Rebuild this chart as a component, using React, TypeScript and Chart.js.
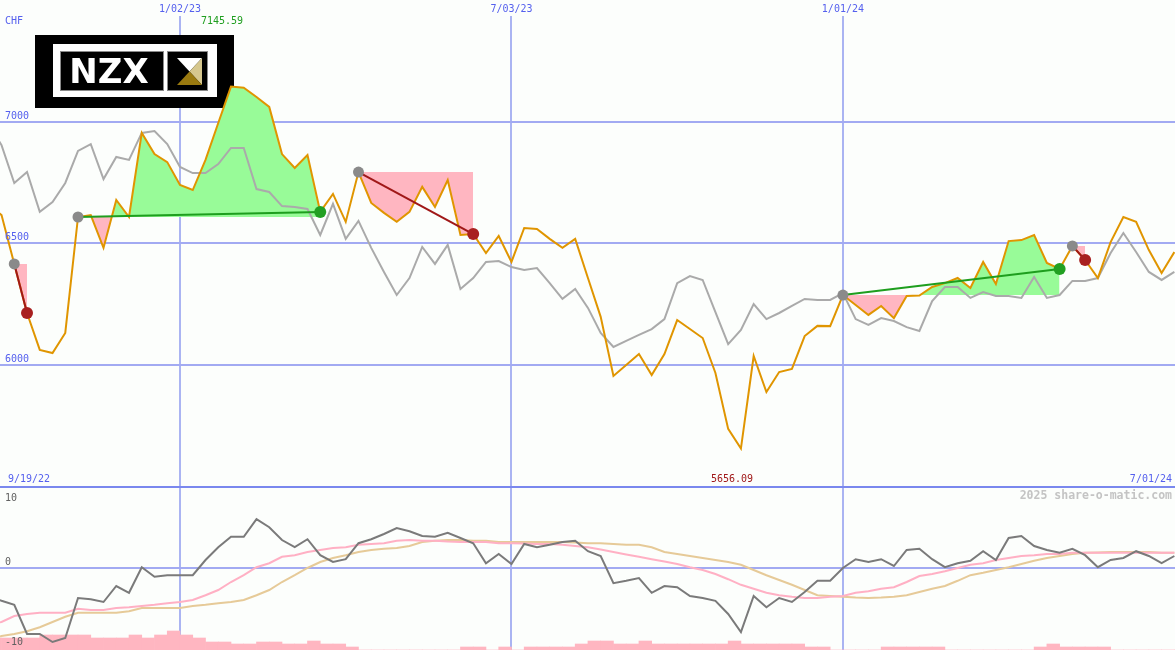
import React, { useEffect, useRef } from "react";
import { Chart, registerables } from "chart.js";

Chart.register(...registerables);

// ---------------- data ----------------
const startDate = { year: 2022, month: 9, day: 19 }; // week 0
const weekMin = 0.88;
const weekMax = 93.05;
const priceTicks = [6000, 6500, 7000];
const dateTickWeeks = [15, 41, 67];
const oscTicks = [10, 0, -10];
const firstLabelWeek = 0;
const lastLabelWeek = 93;

const priceCHF = [
  6658, 6617, 6416, 6214, 6062, 6049, 6132, 6609, 6617, 6482,
  6679, 6609, 6955, 6868, 6835, 6741, 6720, 6844, 6996, 7145.59,
  7141, 7103, 7062, 6868, 6811, 6864, 6630, 6704, 6589, 6794,
  6667, 6626, 6589, 6630, 6733, 6650, 6761, 6535, 6539, 6461,
  6531, 6424, 6564, 6560, 6519, 6482, 6519, 6358, 6198, 5955,
  6000, 6045, 5959, 6045, 6185, 6148, 6111, 5967, 5737, 5656.09,
  6037, 5889, 5971, 5984, 6119, 6161, 6160, 6288, 6247, 6206,
  6243, 6193, 6284, 6286, 6321, 6337, 6358, 6317, 6424, 6333,
  6510, 6514, 6535, 6420, 6395, 6490, 6432, 6358, 6506, 6609,
  6589, 6473, 6379, 6465,
];

const relativeIndex = [
  6988, 6905, 6749, 6794, 6630, 6671, 6749, 6881, 6909, 6765,
  6856, 6844, 6955, 6963, 6909, 6815, 6790, 6790, 6827, 6893,
  6893, 6724, 6712, 6654, 6650, 6642, 6535, 6663, 6519, 6593,
  6482, 6383, 6288, 6358, 6486, 6416, 6494, 6313, 6358, 6424,
  6428, 6403, 6391, 6399, 6337, 6272, 6313, 6235, 6132, 6074,
  6099, 6124, 6148, 6189, 6337, 6366, 6350, 6218, 6086, 6144,
  6251, 6189, 6214, 6243, 6272, 6268, 6268, 6296, 6189, 6165,
  6193, 6181, 6156, 6140, 6263, 6321, 6321, 6276, 6300, 6284,
  6284, 6276, 6362, 6276, 6288, 6346, 6346, 6358, 6461, 6543,
  6465, 6383, 6350, 6383,
];

const momentum = [
  -3.5, -4.1, -4.6, -8.25, -8.25, -9.25, -8.75, -3.75, -3.9, -4.25,
  -2.25, -3.1, 0.1, -1.1, -0.9, -0.9, -0.9, 1.0, 2.6, 3.9,
  3.9, 6.1, 5.1, 3.5, 2.6, 3.6, 1.6, 0.75, 1.1, 3.1,
  3.6, 4.25, 5.0, 4.6, 4.0, 3.9, 4.4, 3.75, 3.1, 0.6,
  1.75, 0.5, 3.0, 2.6, 2.9, 3.25, 3.4, 2.1, 1.5, -1.9,
  -1.6, -1.25, -3.1, -2.25, -2.4, -3.5, -3.75, -4.1, -5.75, -8.0,
  -3.5, -4.9, -3.75, -4.25, -3.0, -1.6, -1.6, 0, 1.1, 0.75,
  1.1, 0.25, 2.25, 2.4, 1.1, 0.1, 0.6, 0.9, 2.1, 1.0,
  3.75, 4.0, 2.75, 2.25, 1.9, 2.4, 1.6, 0.1, 1.0, 1.25,
  2.1, 1.5, 0.6, 1.5,
];

const momentumAvgFast = [
  -7.0, -6.75, -6.0, -5.75, -5.6, -5.6, -5.6, -5.1, -5.25, -5.25,
  -5.0, -4.9, -4.75, -4.6, -4.4, -4.25, -4.0, -3.4, -2.75, -1.75,
  -0.9, 0.1, 0.6, 1.4, 1.6, 2.0, 2.25, 2.5, 2.6, 2.9,
  3.0, 3.1, 3.4, 3.5, 3.4, 3.4, 3.3, 3.25, 3.25, 3.25,
  3.1, 3.1, 3.05, 3.0, 3.0, 2.9, 2.75, 2.6, 2.3, 2.0,
  1.7, 1.4, 1.1, 0.8, 0.5, 0.1, -0.25, -0.75, -1.4, -2.1,
  -2.6, -3.1, -3.4, -3.6, -3.75, -3.75, -3.6, -3.5, -3.1, -2.9,
  -2.6, -2.4, -1.75, -1.0, -0.75, -0.4, 0, 0.4, 0.6, 1.0,
  1.25, 1.5, 1.6, 1.75, 1.75, 1.9, 1.9, 1.9, 1.9, 1.9,
  1.9, 1.9, 1.9, 1.9,
];

const momentumAvgSlow = [
  -9.0, -8.5, -8.25, -7.9, -7.4, -6.75, -6.1, -5.6, -5.6, -5.6,
  -5.6, -5.4, -5.0, -5.0, -5.0, -5.0, -4.75, -4.6, -4.4, -4.25,
  -4.0, -3.4, -2.75, -1.75, -0.9, 0, 0.75, 1.25, 1.6, 2.0,
  2.25, 2.4, 2.5, 2.75, 3.25, 3.4, 3.5, 3.5, 3.4, 3.4,
  3.25, 3.25, 3.25, 3.25, 3.25, 3.25, 3.2, 3.1, 3.1, 3.0,
  2.9, 2.9, 2.6, 2.0, 1.75, 1.5, 1.25, 1.0, 0.75, 0.4,
  -0.25, -0.9, -1.5, -2.1, -2.75, -3.4, -3.5, -3.6, -3.7, -3.75,
  -3.7, -3.6, -3.4, -3.0, -2.6, -2.25, -1.6, -0.9, -0.6, -0.25,
  0.1, 0.5, 0.9, 1.25, 1.5, 1.75, 1.9, 1.95, 2.0, 2.0,
  2.0, 2.0, 1.9, 1.9,
];

// weekly volume (bar k covers week k .. k+1)
const volume = [
  12, 12, 12, 12, 15, 15, 15, 15, 12, 12,
  12, 15, 12, 15, 19, 15, 12, 8, 8, 6,
  6, 8, 8, 6, 6, 9, 6, 6, 3, 0,
  0, 0, 0, 0, 0, 0, 0, 3, 3, 0,
  3, 0, 3, 3, 3, 3, 6, 9, 9, 6,
  6, 9, 6, 6, 6, 6, 6, 6, 9, 6,
  6, 6, 6, 6, 3, 3, 0, 0, 0, 0,
  3, 3, 3, 3, 3, 0, 0, 0, 0, 0,
  0, 0, 3, 6, 3, 3, 3, 3, 0, 0,
  0, 0, 0, 0,
];

const tradeEntryWeeks = [2, 7, 29, 67, 85];
const tradeExitWeeks = [3, 26, 38, 84, 86];

// ---------------- style ----------------
const W = 1175;
const TOP_H = 489;
const BOT_H = 161;
const BG = "#fcfefc";
const GRID_H = "#a2aaf2";
const GRID_V = "#aab4f2";
const BORDER = "#7a88ee";
const BLUE_TXT = "#5560ee";
const GRAY_TXT = "#606060";
const FONT = '10px "DejaVu Sans Mono", monospace';
const PX_PER_CHF = 0.243;
const PRICE_MAX = 7000 + 122 / PX_PER_CHF;
const PRICE_MIN = PRICE_MAX - TOP_H / PX_PER_CHF;
const OSC_PX = 8;
const OSC_MAX = 79 / OSC_PX;
const OSC_MIN = OSC_MAX - BOT_H / OSC_PX;

const ORANGE = "#e09500";
const GRAYLINE = "#aaaaaa";
const GREEN_FILL = "#98fb98";
const PINK_FILL = "#ffb6c1";
const GREEN_LINE = "#1e9e1e";
const RED_LINE = "#a01818";

function weekLabel(k: number): string {
  const d = new Date(Date.UTC(startDate.year, startDate.month - 1, startDate.day + 7 * k));
  const m = d.getUTCMonth() + 1;
  const dd = String(d.getUTCDate()).padStart(2, "0");
  const yy = String(d.getUTCFullYear() % 100).padStart(2, "0");
  return `${m}/${dd}/${yy}`;
}

const pts = (arr: number[], from = 0, to = arr.length - 1) => {
  const out: { x: number; y: number }[] = [];
  for (let i = from; i <= to; i++) out.push({ x: i, y: arr[i] });
  return out;
};

function drawLogo(ctx: CanvasRenderingContext2D) {
  ctx.save();
  ctx.fillStyle = "#000";
  ctx.fillRect(35, 35, 199, 73);
  ctx.fillStyle = "#fff";
  ctx.fillRect(53, 44, 164, 53);
  ctx.fillStyle = "#000";
  ctx.fillRect(61, 52, 102, 38);
  ctx.fillRect(168, 52, 39, 38);
  ctx.strokeStyle = "#8a8a8a";
  ctx.lineWidth = 1;
  ctx.strokeRect(60.5, 51.5, 103, 39);
  ctx.strokeRect(167.5, 51.5, 40, 39);
  ctx.fillStyle = "#fff";
  ctx.font = 'bold 34px "DejaVu Sans", sans-serif';
  ctx.textAlign = "center";
  ctx.textBaseline = "alphabetic";
  ctx.fillText("NZX", 109, 83);
  const l = 177, r = 202, t = 58, b = 85, cx = 189.5, cy = 71.5;
  const tri = (p: number[][], c: string) => {
    ctx.fillStyle = c;
    ctx.beginPath();
    ctx.moveTo(p[0][0], p[0][1]);
    ctx.lineTo(p[1][0], p[1][1]);
    ctx.lineTo(p[2][0], p[2][1]);
    ctx.closePath();
    ctx.fill();
  };
  tri([[l, t], [r, t], [cx, cy]], "#ffffff");
  tri([[r, t], [r, b], [cx, cy]], "#d6c78e");
  tri([[l, b], [r, b], [cx, cy]], "#9a7a10");
  ctx.restore();
}

const topDecor = {
  id: "topDecor",
  beforeDraw(chart: any) {
    const { ctx, width, height } = chart;
    ctx.save();
    ctx.fillStyle = BG;
    ctx.fillRect(0, 0, width, height);
    ctx.restore();
  },
  beforeDatasetsDraw(chart: any) {
    const { ctx, scales, chartArea } = chart;
    const x = scales.x, y = scales.y;
    ctx.save();
    ctx.fillStyle = GRID_V;
    dateTickWeeks.forEach((k) => {
      const px = Math.round(x.getPixelForValue(k));
      ctx.fillRect(px - 1, 16, 2, chartArea.bottom - 16);
    });
    ctx.fillStyle = GRID_H;
    priceTicks.forEach((v) => {
      const py = Math.round(y.getPixelForValue(v));
      ctx.fillRect(0, py - 1, chart.width, 2);
    });
    ctx.restore();
    drawLogo(ctx);
  },
  afterDraw(chart: any) {
    const { ctx, scales, chartArea } = chart;
    const x = scales.x, y = scales.y;
    ctx.save();
    ctx.font = FONT;
    ctx.textBaseline = "middle";
    ctx.fillStyle = BLUE_TXT;
    ctx.textAlign = "left";
    ctx.fillText("CHF", 5, 21);
    priceTicks.forEach((v) => ctx.fillText(String(v), 5, y.getPixelForValue(v) - 6));
    ctx.textAlign = "center";
    dateTickWeeks.forEach((k) => ctx.fillText(weekLabel(k), x.getPixelForValue(k), 9));
    ctx.textAlign = "left";
    ctx.fillText(weekLabel(firstLabelWeek), 8, chartArea.bottom - 10);
    ctx.textAlign = "right";
    ctx.fillText(weekLabel(lastLabelWeek), chart.width - 3, chartArea.bottom - 10);
    // max / min
    let iMax = 0, iMin = 0;
    priceCHF.forEach((v, i) => {
      if (v > priceCHF[iMax]) iMax = i;
      if (v < priceCHF[iMin]) iMin = i;
    });
    ctx.textAlign = "left";
    ctx.fillStyle = "#1e9e1e";
    ctx.fillText(priceCHF[iMax].toFixed(2), x.getPixelForValue(iMax) - 30, 21);
    ctx.fillStyle = "#a01818";
    ctx.fillText(priceCHF[iMin].toFixed(2), x.getPixelForValue(iMin) - 30, chartArea.bottom - 10);
    // bottom border
    ctx.fillStyle = BORDER;
    ctx.fillRect(0, chartArea.bottom - 3, chart.width, 2);
    ctx.restore();
  },
};

const botDecor = {
  id: "botDecor",
  beforeDraw(chart: any) {
    const { ctx, width, height } = chart;
    ctx.save();
    ctx.fillStyle = BG;
    ctx.fillRect(0, 0, width, height);
    ctx.restore();
  },
  beforeDatasetsDraw(chart: any) {
    const { ctx, scales, chartArea } = chart;
    const x = scales.x, y = scales.y;
    ctx.save();
    ctx.fillStyle = GRID_V;
    dateTickWeeks.forEach((k) => {
      const px = Math.round(x.getPixelForValue(k));
      ctx.fillRect(px - 1, 0, 2, chartArea.bottom);
    });
    ctx.fillStyle = GRID_H;
    const py = Math.round(y.getPixelForValue(0));
    ctx.fillRect(0, py - 1, chart.width, 2);
    ctx.restore();
  },
  afterDraw(chart: any) {
    const { ctx, scales } = chart;
    const y = scales.y;
    ctx.save();
    ctx.font = FONT;
    ctx.textBaseline = "middle";
    ctx.fillStyle = GRAY_TXT;
    ctx.textAlign = "left";
    oscTicks.forEach((v) => ctx.fillText(String(v), 5, Math.max(9, y.getPixelForValue(v) - 6)));
    ctx.textAlign = "right";
    ctx.fillStyle = "#c4c4c4";
    ctx.font = 'bold 11.5px "DejaVu Sans Mono", monospace';
    ctx.fillText("2025 share-o-matic.com", chart.width - 3, 7);
    ctx.restore();
  },
};

export default function App() {
  const topRef = useRef<HTMLCanvasElement>(null);
  const botRef = useRef<HTMLCanvasElement>(null);

  useEffect(() => {
    document.body.style.margin = "0";
    document.body.style.background = BG;

    const fillSets: any[] = [];
    const tradeLines: any[] = [];
    const entryPts: any[] = [];
    const exitPts: any[] = [];
    const exitColors: string[] = [];
    tradeEntryWeeks.forEach((e, i) => {
      const x = tradeExitWeeks[i];
      const profit = priceCHF[x] > priceCHF[e];
      fillSets.push({
        data: pts(priceCHF, e, x),
        borderWidth: 0,
        borderColor: "rgba(0,0,0,0)",
        pointRadius: 0,
        fill: { target: { value: priceCHF[e] }, above: GREEN_FILL, below: PINK_FILL },
        order: 10,
      });
      tradeLines.push({
        data: [{ x: e, y: priceCHF[e] }, { x: x, y: priceCHF[x] }],
        borderColor: profit ? GREEN_LINE : RED_LINE,
        borderWidth: 2,
        pointRadius: 0,
        fill: false,
        order: 2,
      });
      entryPts.push({ x: e, y: priceCHF[e] });
      exitPts.push({ x: x, y: priceCHF[x] });
      exitColors.push(profit ? "#22a022" : "#a82020");
    });

    const common: any = {
      responsive: false,
      maintainAspectRatio: false,
      animation: false,
      events: [],
      layout: { padding: 0, autoPadding: false },
      plugins: { legend: { display: false }, tooltip: { enabled: false } },
      elements: { line: { tension: 0 }, point: { radius: 0 } },
    };

    const top = new Chart(topRef.current!, {
      type: "line",
      data: {
        datasets: [
          {
            data: entryPts,
            showLine: false,
            pointRadius: 5.5,
            pointBackgroundColor: "#8a8a8a",
            pointBorderWidth: 0,
            order: 0,
          },
          {
            data: exitPts,
            showLine: false,
            pointRadius: 6,
            pointBackgroundColor: exitColors,
            pointBorderWidth: 0,
            order: 0,
          },
          ...tradeLines,
          {
            data: pts(priceCHF),
            borderColor: ORANGE,
            borderWidth: 2,
            pointRadius: 0,
            fill: false,
            order: 3,
          },
          {
            data: pts(relativeIndex),
            borderColor: GRAYLINE,
            borderWidth: 2,
            pointRadius: 0,
            fill: false,
            order: 4,
          },
          ...fillSets,
        ],
      },
      options: {
        ...common,
        scales: {
          x: { type: "linear", min: weekMin, max: weekMax, display: false },
          y: { type: "linear", min: PRICE_MIN, max: PRICE_MAX, display: false },
        },
      },
      plugins: [topDecor],
    } as any);

    const bot = new Chart(botRef.current!, {
      type: "line",
      data: {
        datasets: [
          {
            data: pts(momentum),
            borderColor: "#7a7a7a",
            borderWidth: 2,
            pointRadius: 0,
            order: 0,
          },
          {
            data: pts(momentumAvgFast),
            borderColor: "#ffb0c4",
            borderWidth: 2,
            pointRadius: 0,
            order: 1,
          },
          {
            data: pts(momentumAvgSlow),
            borderColor: "#e6ca98",
            borderWidth: 2,
            pointRadius: 0,
            order: 2,
          },
          {
            type: "bar",
            data: volume.map((v, i) => ({ x: i + 0.5, y: v })),
            backgroundColor: PINK_FILL,
            borderWidth: 0,
            barPercentage: 1,
            categoryPercentage: 1,
            yAxisID: "yv",
            order: 5,
          },
        ],
      },
      options: {
        ...common,
        scales: {
          x: { type: "linear", min: weekMin, max: weekMax, display: false, offset: false },
          y: { type: "linear", min: OSC_MIN, max: OSC_MAX, display: false },
          yv: { type: "linear", min: 0, max: BOT_H, display: false },
        },
      },
      plugins: [botDecor],
    } as any);

    return () => {
      top.destroy();
      bot.destroy();
    };
  }, []);

  return (
    <div style={{ width: W, height: TOP_H + BOT_H, background: BG }}>
      <canvas ref={topRef} width={W} height={TOP_H} style={{ display: "block" }} />
      <canvas ref={botRef} width={W} height={BOT_H} style={{ display: "block" }} />
    </div>
  );
}
